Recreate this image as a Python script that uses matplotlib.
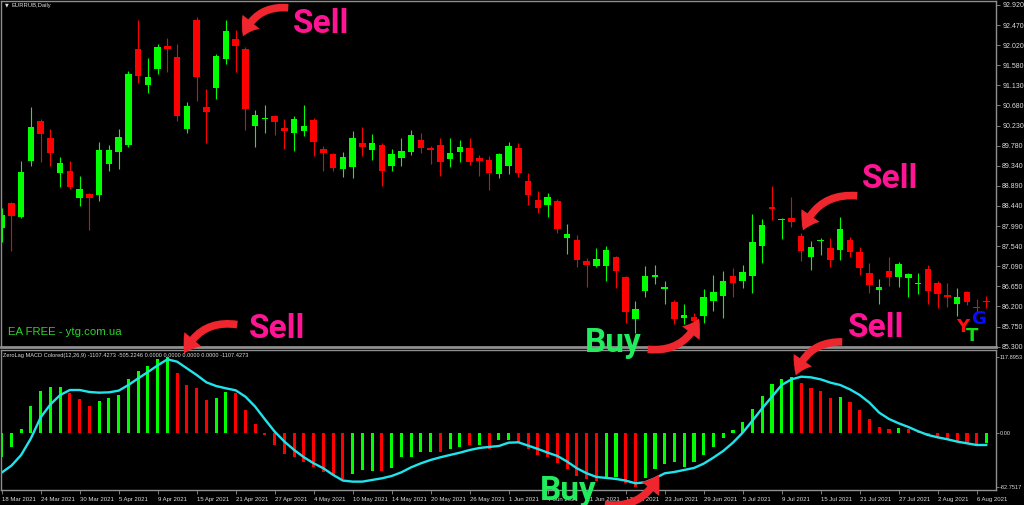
import numpy as np
import matplotlib
matplotlib.use("Agg")
import matplotlib.pyplot as plt
from matplotlib.patches import FancyArrowPatch

# ---- data (EURRUB daily, 18 Mar - 9 Aug 2021) ----
date_labels = ["18 Mar 2021", "24 Mar 2021", "30 Mar 2021", "5 Apr 2021", "9 Apr 2021",
               "15 Apr 2021", "21 Apr 2021", "27 Apr 2021", "4 May 2021", "10 May 2021",
               "14 May 2021", "20 May 2021", "26 May 2021", "1 Jun 2021", "7 Jun 2021",
               "11 Jun 2021", "17 Jun 2021", "23 Jun 2021", "29 Jun 2021", "5 Jul 2021",
               "9 Jul 2021", "15 Jul 2021", "21 Jul 2021", "27 Jul 2021", "2 Aug 2021",
               "6 Aug 2021"]
bars_per_label = 4

opens = [87.95, 88.50, 88.19, 89.44, 90.33, 89.95, 89.17, 89.22, 88.61, 88.70,
         88.68, 89.37, 89.64, 89.80, 91.94, 91.13, 91.49, 92.00, 91.76, 90.15,
         92.58, 90.64, 91.07, 91.71, 92.16, 91.94, 90.22, 90.38, 90.44, 90.18,
         90.06, 90.11, 90.35, 89.71, 89.60, 89.26, 89.31, 89.84, 89.69, 89.80,
         89.33, 89.51, 89.64, 89.91, 89.73, 89.80, 89.48, 89.64, 89.73, 89.51,
         89.46, 89.15, 89.33, 89.73, 88.99, 88.57, 88.46, 88.55, 87.72, 87.68,
         87.21, 87.10, 87.10, 87.30, 86.85, 85.92, 86.54, 86.85, 86.59, 86.30,
         85.94, 85.96, 85.98, 86.32, 86.43, 86.88, 86.76, 86.88, 87.54, 88.41,
         88.12, 88.17, 87.77, 87.30, 87.66, 87.50, 87.46, 87.68, 87.41, 86.94,
         86.56, 86.99, 86.85, 86.83, 86.71, 87.03, 86.72, 86.45, 86.25, 86.52,
         86.18, 86.32]
highs = [88.39, 88.52, 89.44, 90.64, 90.38, 90.15, 89.53, 89.44, 89.11, 88.72,
         89.86, 89.80, 90.15, 91.45, 92.58, 91.74, 92.05, 92.18, 92.05, 90.76,
         92.65, 91.05, 91.83, 92.58, 92.36, 91.98, 90.58, 90.69, 90.47, 90.38,
         90.44, 90.69, 90.40, 89.77, 89.62, 89.64, 90.11, 90.20, 90.04, 89.84,
         89.71, 89.96, 90.13, 90.06, 89.77, 89.95, 89.96, 89.91, 89.96, 89.57,
         89.55, 89.62, 89.86, 89.84, 89.17, 88.77, 88.73, 88.59, 88.03, 87.79,
         87.28, 87.50, 87.54, 87.32, 86.87, 86.32, 87.10, 87.12, 86.76, 86.34,
         86.25, 86.05, 86.59, 86.90, 86.99, 87.05, 87.12, 88.26, 88.15, 88.88,
         88.17, 88.64, 87.83, 87.66, 87.72, 87.72, 88.19, 87.75, 87.52, 87.16,
         86.81, 87.30, 87.19, 86.94, 86.94, 87.12, 86.76, 86.72, 86.61, 86.54,
         86.36, 86.43]
lows = [87.63, 87.43, 88.17, 89.33, 89.42, 89.33, 88.86, 88.82, 88.44, 87.90,
        88.55, 89.22, 89.26, 89.75, 91.18, 90.96, 91.38, 91.42, 90.33, 90.06,
        90.78, 89.84, 90.82, 91.60, 91.42, 90.13, 89.75, 90.06, 90.02, 89.71,
        89.66, 90.00, 89.55, 89.22, 89.22, 89.08, 89.06, 89.55, 89.46, 88.88,
        89.22, 89.33, 89.57, 89.62, 89.38, 89.11, 89.31, 89.42, 89.35, 89.11,
        88.79, 89.06, 89.15, 89.08, 88.46, 88.28, 88.19, 87.83, 87.37, 87.08,
        86.63, 87.08, 86.76, 86.61, 85.83, 85.60, 86.41, 86.70, 86.25, 85.80,
        85.80, 85.76, 85.83, 86.10, 85.94, 86.41, 86.61, 86.50, 87.16, 88.12,
        87.70, 87.97, 87.21, 87.01, 87.34, 87.08, 87.23, 87.30, 86.90, 86.50,
        86.25, 86.65, 86.63, 86.41, 86.47, 86.25, 86.16, 86.18, 85.98, 86.23,
        86.05, 86.16]
closes = [88.24, 88.21, 89.19, 90.20, 90.04, 89.62, 89.40, 88.86, 88.82, 88.61,
          89.68, 89.68, 89.97, 91.38, 91.34, 91.31, 91.98, 91.94, 90.44, 90.67,
          91.31, 90.53, 91.78, 92.34, 92.00, 90.60, 90.47, 90.40, 90.31, 90.11,
          90.38, 90.22, 89.86, 89.62, 89.28, 89.53, 89.96, 89.75, 89.84, 89.22,
          89.60, 89.66, 90.02, 89.73, 89.69, 89.42, 89.62, 89.75, 89.42, 89.44,
          89.17, 89.60, 89.77, 89.17, 88.68, 88.39, 88.64, 87.92, 87.81, 87.23,
          87.12, 87.25, 87.46, 86.99, 86.07, 86.14, 86.88, 86.90, 86.63, 85.92,
          86.01, 85.87, 86.41, 86.52, 86.76, 86.72, 86.96, 87.63, 88.01, 88.37,
          88.15, 88.08, 87.43, 87.52, 87.68, 87.23, 87.92, 87.41, 87.05, 86.67,
          86.63, 86.85, 87.14, 86.92, 86.72, 86.54, 86.47, 86.41, 86.41, 86.30,
          86.16, 86.30]
price_ticks = [92.920, 92.470, 92.020, 91.580, 91.130, 90.680, 90.230, 89.780, 89.340,
               88.890, 88.440, 87.990, 87.540, 87.090, 86.650, 86.200, 85.750, 85.300]

# ZeroLag MACD histogram + signal line
macd_hist = [-36.9, -21.5, 6.7, 42.1, 64.6, 70.8, 70.8, 61.6, 52.3, 42.1,
             49.2, 53.9, 59.5, 83.6, 96.4, 103.6, 114.4, 117.9, 92.3, 74.4,
             69.3, 51.3, 54.9, 63.1, 61.6, 35.9, 14.4, -2.0, -18.0, -31.8,
             -36.9, -43.6, -51.3, -59.0, -64.1, -70.3, -62.6, -56.4, -57.5, -57.5,
             -53.9, -36.9, -36.9, -29.2, -29.2, -29.2, -24.1, -20.5, -18.0, -18.0,
             -24.1, -10.3, -10.3, -15.4, -24.6, -33.3, -35.9, -46.2, -55.4, -65.7,
             -70.8, -72.8, -66.7, -66.7, -75.9, -82.75, -68.2, -55.4, -47.2, -43.6,
             -51.3, -43.6, -33.3, -21.5, -7.7, 5.1, 18.0, 36.9, 57.5, 75.9,
             83.1, 86.2, 77.0, 69.3, 65.2, 53.9, 55.4, 47.7, 35.9, 21.5,
             10.3, 6.2, 7.7, 6.2, 2.6, -4.1, -7.7, -10.3, -11.3, -14.4,
             -16.4, -15.4]
# G = green bar, R = red bar (10 per chunk)
hist_dir = ("GGGGGGGRRR" "GGGGGGGGRR" "RRGGRRRRRR" "RRRRRRGGGR" "GGGGGRGGRG"
            "RGGRRRRRRR" "RRGGRRGGGG" "GGGGGGGGGG" "GGRRRRGRRR" "RRGRRRRRRR" "RG")
macd_signal = [-60.5, -49.8, -33.3, -7.7, 24.6, 44.6, 59.0, 66.7, 66.7, 63.6,
               62.6, 63.1, 65.7, 74.4, 84.6, 94.4, 104.7, 113.9, 110.3, 100.0,
               89.8, 78.5, 72.8, 69.3, 66.2, 56.4, 41.0, 21.5, 2.6, -12.8,
               -25.7, -36.9, -46.2, -53.9, -64.1, -72.8, -74.4, -74.4, -71.8, -69.3,
               -65.7, -60.0, -52.3, -46.2, -41.0, -36.9, -33.3, -29.8, -25.7, -22.6,
               -21.0, -19.5, -14.4, -13.9, -19.0, -24.1, -29.8, -34.9, -43.6, -53.9,
               -61.6, -67.2, -68.7, -70.3, -72.8, -77.0, -75.4, -69.3, -61.6, -59.5,
               -56.4, -53.4, -46.7, -37.4, -27.2, -14.4, 1.0, 19.5, 38.5, 56.4,
               74.4, 83.1, 87.2, 86.2, 83.1, 78.0, 74.4, 67.7, 59.0, 47.2,
               31.8, 22.1, 15.4, 9.7, 3.1, -2.6, -6.2, -9.2, -12.8, -15.4,
               -18.0, -18.0]
macd_ticks = [117.8953, 0.0, -82.7517]
macd_tick_labels = ["117.8953", "0.00", "-82.7517"]

# ---- figure ----
W, H = 1024, 505
fig = plt.figure(figsize=(W / 100, H / 100), dpi=100, facecolor="black")


def fx(px):
    return px / W


def fy(py):
    return 1 - py / H


small = dict(family="Liberation Sans", color="#dcdcdc")
frame_col = "#8f8f8f"

ax = fig.add_axes([fx(1), fy(347), fx(996) - fx(1), fy(1) - fy(347)])
ax2 = fig.add_axes([fx(1), fy(490), fx(996) - fx(1), fy(350) - fy(490)])
for a in (ax, ax2):
    a.set_facecolor("black")
    for s in a.spines.values():
        s.set_color(frame_col)
        s.set_linewidth(1)
    a.set_xlim(-0.07, 101.98)
    a.yaxis.tick_right()
    a.tick_params(axis="y", direction="out", length=3, width=0.6, color=frame_col,
                  labelsize=5.0, labelcolor="#dcdcdc", pad=1.5)
ax2.tick_params(axis="y", labelsize=4.1, length=2, pad=0.8)
ax.spines["bottom"].set_linewidth(2)

# candles
x = np.arange(len(opens))
o, h, l, c = (np.array(v) for v in (opens, highs, lows, closes))
cols = np.where(c >= o, "#00ff00", "#ff0000")
ax.vlines(x, l, h, colors=cols, lw=0.8)
body = np.maximum(np.abs(c - o), 0.022)
ax.bar(x, body, bottom=(o + c) / 2 - body / 2, width=0.66, color=cols, linewidth=0)
ax.set_ylim(85.293, 93.009)
ax.set_yticks(price_ticks)
ax.set_yticklabels([f"{p:.3f}" for p in price_ticks], family="Liberation Sans")
ax.set_xticks([])

# indicator
hcols = ["#00ff00" if d == "G" else "#ff0000" for d in hist_dir]
ax2.bar(x, macd_hist, width=0.32, color=hcols, linewidth=0)
ax2.plot(x, macd_signal, color="#20e4ec", lw=1.7, solid_capstyle="round")
ax2.set_ylim(-87.3, 128.3)
ax2.set_yticks(macd_ticks)
ax2.set_yticklabels(macd_tick_labels, family="Liberation Sans")
xt = np.arange(len(date_labels)) * bars_per_label
ax2.set_xticks(xt)
ax2.set_xticklabels(date_labels, ha="left", family="Liberation Sans")
ax2.tick_params(axis="x", direction="out", length=3, width=0.6, color=frame_col,
                labelsize=4.3, labelcolor="#dcdcdc", pad=2)

# chart captions
fig.text(fx(5), fy(5), "\u25bc", fontsize=3.5, color="#dcdcdc", va="center")
fig.text(fx(12), fy(5), "EURRUB,Daily", fontsize=4.2, va="center", **small)
fig.text(fx(3), fy(355), "ZeroLag MACD Colored(12,26,9) -1107.4273 -505.2246 0.0000 "
         "0.0000 0.0000 0.0000 -1107.4273", fontsize=4.1, va="center", **small)
fig.text(fx(8), fy(332), "EA FREE - ytg.com.ua", fontsize=8.2, color="#2bd42b",
         family="Liberation Sans", va="center")

# YTG logo
fig.text(fx(956), fy(332), "Y", fontsize=13, color="#ff1010", weight="bold")
fig.text(fx(966), fy(341), "T", fontsize=13, color="#10e010", weight="bold")
fig.text(fx(971), fy(324), "G", fontsize=13, color="#0a0aff", weight="bold")

# Sell / Buy signals
sell_col, buy_col, arrow_col = "#ff1493", "#22ec5e", "#f0262f"
for px, py in [(293, 33), (862, 188), (249, 338), (848, 337)]:
    fig.text(fx(px), fy(py), "Sell", fontsize=24, color=sell_col, family="Roboto",
             weight="bold", va="baseline")
for px, py in [(585, 352), (540, 500)]:
    fig.text(fx(px), fy(py), "Buy", fontsize=24, color=buy_col, family="Roboto",
             weight="bold", va="baseline", zorder=5)

arrows = [((291, 8), (242, 39)), ((860, 196), (802, 233)), ((240, 325), (183, 356)),
          ((845, 342), (795, 378)), ((645, 349), (700, 316)), ((602, 504), (660, 472))]
for (x0, y0), (x1, y1) in arrows:
    fig.add_artist(FancyArrowPatch((fx(x0), fy(y0)), (fx(x1), fy(y1)),
                                   transform=fig.transFigure,
                                   connectionstyle="arc3,rad=0.4",
                                   arrowstyle="simple,head_length=1.2,head_width=1.6,tail_width=0.55",
                                   mutation_scale=10, color=arrow_col, lw=0))

fig.savefig("out.png", dpi=100, facecolor="black")
